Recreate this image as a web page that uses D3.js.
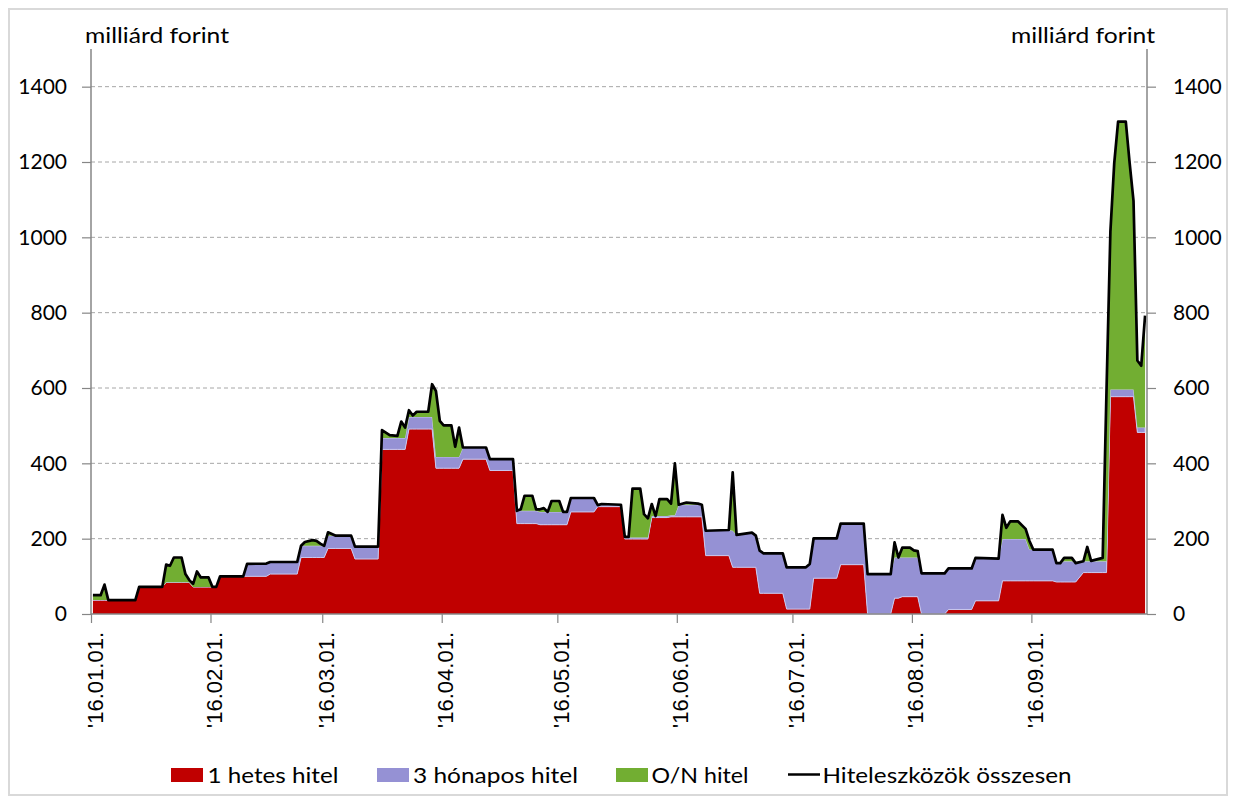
<!DOCTYPE html>
<html><head><meta charset="utf-8">
<script src="https://cdn.jsdelivr.net/npm/d3@7"></script>
<style>body{margin:0;background:#fff} svg{display:block}</style>
</head><body>
<svg id="c" width="1234" height="803"></svg>
<script>
// ---- data (milliárd forint) ----
const dates = ["2016-01-01","2016-01-03","2016-01-04","2016-01-05","2016-01-12","2016-01-13","2016-01-19","2016-01-20","2016-01-21","2016-01-22",
"2016-01-24","2016-01-25","2016-01-26","2016-01-27","2016-01-28","2016-01-29","2016-01-31","2016-02-01","2016-02-02","2016-02-03",
"2016-02-09","2016-02-10","2016-02-15","2016-02-16","2016-02-23","2016-02-24","2016-02-25","2016-02-27","2016-02-28","2016-02-29",
"2016-03-01","2016-03-02","2016-03-04","2016-03-08","2016-03-09","2016-03-15","2016-03-16","2016-03-18","2016-03-20","2016-03-21",
"2016-03-22","2016-03-23","2016-03-24","2016-03-25","2016-03-28","2016-03-29","2016-03-30","2016-03-31","2016-04-01","2016-04-03",
"2016-04-04","2016-04-05","2016-04-06","2016-04-12","2016-04-13","2016-04-18","2016-04-19","2016-04-20","2016-04-21","2016-04-22",
"2016-04-24","2016-04-25","2016-04-26","2016-04-27","2016-04-28","2016-04-29","2016-05-01","2016-05-02","2016-05-03","2016-05-04",
"2016-05-10","2016-05-11","2016-05-12","2016-05-17","2016-05-18","2016-05-19","2016-05-20","2016-05-22","2016-05-23","2016-05-24",
"2016-05-25","2016-05-26","2016-05-27","2016-05-29","2016-05-30","2016-05-31","2016-06-01","2016-06-03","2016-06-06","2016-06-07",
"2016-06-08","2016-06-14","2016-06-15","2016-06-16","2016-06-20","2016-06-21","2016-06-22","2016-06-23","2016-06-28","2016-06-29",
"2016-07-04","2016-07-05","2016-07-06","2016-07-12","2016-07-13","2016-07-19","2016-07-20","2016-07-26","2016-07-27","2016-07-28",
"2016-07-29","2016-07-31","2016-08-01","2016-08-02","2016-08-03","2016-08-09","2016-08-10","2016-08-16","2016-08-17","2016-08-23",
"2016-08-24","2016-08-25","2016-08-26","2016-08-28","2016-08-30","2016-08-31","2016-09-01","2016-09-06","2016-09-07","2016-09-08",
"2016-09-09","2016-09-11","2016-09-12","2016-09-14","2016-09-15","2016-09-16","2016-09-19","2016-09-20","2016-09-21","2016-09-22",
"2016-09-23","2016-09-25","2016-09-26","2016-09-27","2016-09-28","2016-09-29","2016-09-30"];

const weeklyLoan = [37,37,37,37,37,72,72,84,84,84,
84,84,84,72,72,72,72,72,72,100,
100,100,100,106,106,150,150,150,150,150,
150,174,174,174,146,146,437,437,437,437,
437,491,491,491,491,491,387,387,387,387,
387,387,411,411,381,381,381,240,240,240,
240,240,237,237,237,237,237,237,237,271,
271,285,285,285,199,199,199,199,199,199,
256,256,256,256,258,258,258,258,258,258,
155,155,124,124,124,124,55,55,55,13,
13,13,95,95,131,131,0,0,42,42,
46,46,46,46,0,0,12,12,35,35,
88,88,88,88,88,88,88,88,85,85,
85,85,85,110,110,110,110,110,577,577,
577,577,577,577,482,482,482];

const threeMonthLoan = [0,0,0,0,0,0,0,0,0,0,
0,0,0,0,0,0,0,0,0,0,
0,33,34,32,32,31,31,31,31,31,
31,34,34,34,33,33,30,30,30,30,
30,32,32,32,32,32,30,30,30,30,
30,30,31,31,30,30,30,34,34,34,
34,34,34,34,34,34,34,34,34,37,
37,4,5,5,4,4,4,4,4,4,
4,4,4,4,4,4,32,32,32,32,
66,68,97,86,92,84,113,106,106,111,
111,120,106,106,109,109,106,106,108,108,
104,104,104,104,108,108,109,109,114,112,
111,111,111,111,111,83,83,83,50,50,
55,55,50,30,30,30,30,30,19,19,
19,19,19,19,13,13,13];

const overnightLoan = [13,13,41,0,0,0,0,47,44,66,
66,22,6,8,41,25,25,0,0,0,
0,0,0,0,0,0,10,15,13,6,
0,9,0,0,0,0,21,8,6,44,
28,18,4,14,14,87,175,96,84,84,
27,78,0,0,0,0,0,0,4,40,
40,4,7,10,0,29,29,0,0,0,
0,0,2,0,2,2,130,130,62,51,
32,0,45,45,31,138,0,6,3,0,
0,0,155,0,0,0,0,0,0,0,
0,0,0,0,0,0,0,0,40,0,
26,26,19,17,0,0,0,0,0,0,
64,30,47,47,27,23,0,0,0,0,
9,9,0,0,38,1,9,456,419,601,
711,711,601,501,178,164,297];

const yTickValues = [0,200,400,600,800,1000,1200,1400];
const xTickDates = ["2016-01-01","2016-02-01","2016-03-01","2016-04-01","2016-05-01","2016-06-01","2016-07-01","2016-08-01","2016-09-01"];
const seriesNames = ["1 hetes hitel","3 hónapos hitel","O/N hitel","Hiteleszközök összesen"];
const seriesColors = ["#c00000","#9591d4","#72ae32","#000000"];
const unitLabel = "milliárd forint";

// ---- layout ----
const svg = d3.select("#c");
const m = {left:91, right:1147, top:49, bottom:614};
const parse = d3.utcParse("%Y-%m-%d");
const x = d3.scaleUtc().domain([parse("2016-01-01"), parse("2016-10-01")]).range([m.left, m.right]);
const y = d3.scaleLinear().domain([0,1500]).range([m.bottom, m.top]);

// outer frame
svg.append("rect").attr("x",9).attr("y",9).attr("width",1218).attr("height",786)
  .attr("fill","#fff").attr("stroke","#d9d9d9").attr("stroke-width",2);

// gridlines
svg.append("g").selectAll("line").data(yTickValues.filter(v=>v>0)).join("line")
  .attr("x1",m.left).attr("x2",m.right).attr("y1",d=>y(d)).attr("y2",d=>y(d))
  .attr("stroke","#a6a6a6").attr("stroke-width",1).attr("stroke-dasharray","4,3");

// data rows (points centred on their day)
const rows = dates.map((d,i)=>({date: d3.utcHour.offset(parse(d),12),
  weekly: weeklyLoan[i], three: threeMonthLoan[i], on: overnightLoan[i]}));
const stacked = d3.stack().keys(["weekly","three","on"])(rows);

const area = d3.area().x(d=>x(d.data.date)).y0(d=>y(d[0])).y1(d=>y(d[1]));
const g = svg.append("g");
g.selectAll("path.a").data(stacked).join("path").attr("class","a")
  .attr("d",area).attr("fill",(d,i)=>seriesColors[i])
  .attr("stroke",(d,i)=> i===1 ? "#c9c7ee" : "none").attr("stroke-width",1);

// total line (top of stack)
const line = d3.line().x(d=>x(d.data.date)).y(d=>y(d[1]));
g.append("path").datum(stacked[2]).attr("d",line).attr("fill","none")
  .attr("stroke","#000").attr("stroke-width",2.7).attr("stroke-linejoin","round");

// axes
const fontNum = "Lato, 'Open Sans', sans-serif";
const leftAxis = svg.append("g").attr("transform",`translate(${m.left},0)`)
  .call(d3.axisLeft(y).tickValues(yTickValues).tickSize(9).tickSizeOuter(0).tickPadding(15).tickFormat(d3.format("d")));
const rightAxis = svg.append("g").attr("transform",`translate(${m.right},0)`)
  .call(d3.axisRight(y).tickValues(yTickValues).tickSize(9).tickSizeOuter(0).tickPadding(17).tickFormat(d3.format("d")));
[leftAxis,rightAxis].forEach(a=>{
  a.select(".domain").attr("stroke","#868686").attr("stroke-width",1.5).attr("d",`M0,${m.top}V${m.bottom}`);
  a.selectAll(".tick line").attr("stroke","#868686").attr("stroke-width",1.2);
  a.selectAll(".tick text").attr("fill","#000").style("font-family",fontNum).style("font-size","21px");
});

const bottomAxis = svg.append("g").attr("transform",`translate(0,${m.bottom})`)
  .call(d3.axisBottom(x).tickValues(xTickDates.map(parse)).tickSize(9).tickSizeOuter(0)
    .tickFormat(d3.utcFormat("'%y.%m.%d.")));
bottomAxis.select(".domain").attr("stroke","#868686").attr("stroke-width",1.5).attr("d",`M${m.left},0H${m.right}`);
bottomAxis.selectAll(".tick line").attr("stroke","#868686").attr("stroke-width",1.2);
bottomAxis.selectAll(".tick text").attr("fill","#000")
  .style("font-family","'Liberation Sans', Arial, sans-serif").style("font-size","22px")
  .attr("transform","rotate(-90)").attr("x",-18).attr("y",11).attr("dy",0).style("text-anchor","end");

// unit labels
svg.append("text").attr("x",85).attr("y",43).text(unitLabel)
  .style("font-family",fontNum).style("font-size","22px").attr("textLength",144).attr("lengthAdjust","spacingAndGlyphs");
svg.append("text").attr("x",1011).attr("y",43).text(unitLabel)
  .style("font-family",fontNum).style("font-size","22px").attr("textLength",144).attr("lengthAdjust","spacingAndGlyphs");

// legend
const legendItems = [
  {sx:171, tx:207.5, tw:131, type:"rect"},
  {sx:377, tx:413, tw:165, type:"rect"},
  {sx:616, tx:651.5, tw:97, type:"rect"},
  {sx:788, tx:822.5, tw:249, type:"line"}
];
const lg = svg.append("g");
legendItems.forEach((it,i)=>{
  if(it.type==="rect"){
    lg.append("rect").attr("x",it.sx).attr("y",768).attr("width",32).attr("height",14).attr("fill",seriesColors[i]);
  } else {
    lg.append("line").attr("x1",it.sx).attr("x2",it.sx+32).attr("y1",774.5).attr("y2",774.5)
      .attr("stroke","#000").attr("stroke-width",2.5);
  }
  lg.append("text").attr("x",it.tx).attr("y",782.5).text(seriesNames[i])
    .style("font-family",fontNum).style("font-size","22px")
    .attr("textLength",it.tw).attr("lengthAdjust","spacingAndGlyphs");
});
</script>
</body></html>
